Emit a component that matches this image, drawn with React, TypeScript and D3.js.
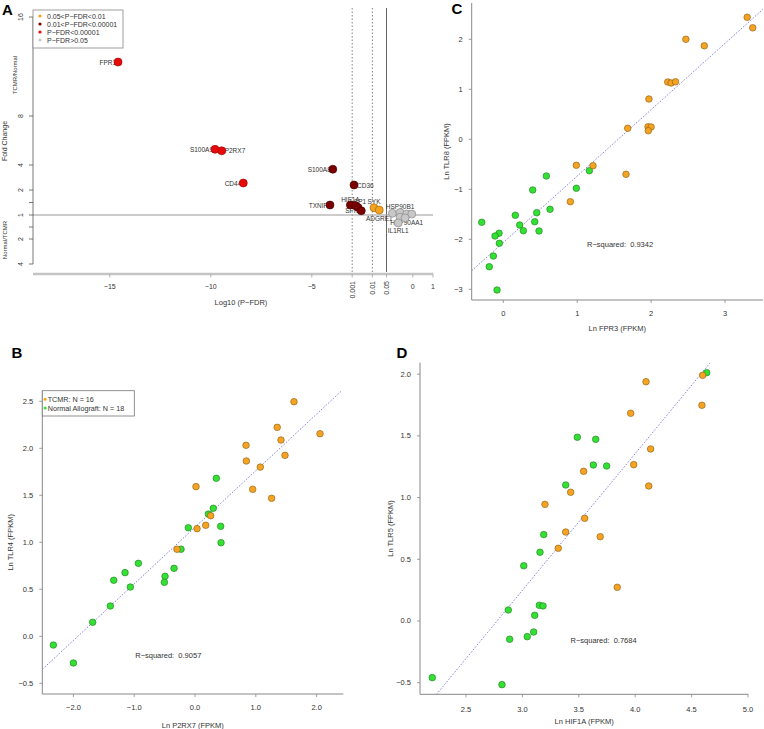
import React from 'react';
import * as d3 from 'd3';

const FONT = '"Liberation Sans", Arial, Helvetica, sans-serif';
const TXT = '#333';
const ORANGE = '#f4a322';
const GREEN = '#33e033';
const FIT = '#6868dc';
const AXIS = '#888';

// ---------------- Panel A (volcano-like) data ----------------
const aGenes = ['FPR1', 'S100A9', 'P2RX7', 'CD44', 'S100A8', 'CD36', 'TXNIP', 'HIF1A', '', 'LCP1', 'SPI1', 'SYK', 'ADGRE1', '', 'HSP90B1', '', 'HSP90AA1', '', 'IL1RL1', ''];
const aLog10P = [-14.59, -9.79, -9.46, -8.39, -3.96, -2.91, -4.10, -3.09, -2.84, -2.71, -2.55, -1.92, -1.66, -1.01, -0.63, -0.63, -0.30, -0.05, -0.72, -0.38];
const aLog2FC = [3.545, 2.32, 2.29, 1.28, 1.83, 1.20, 0.40, 0.40, 0.38, 0.30, 0.17, 0.29, 0.20, 0.07, 0.10, -0.09, 0.04, 0.04, -0.33, -0.12];
const aClass = ['red', 'red', 'red', 'red', 'darkred', 'darkred', 'darkred', 'darkred', 'darkred', 'darkred', 'darkred', 'orange', 'orange', 'gray', 'gray', 'gray', 'gray', 'gray', 'gray', 'gray'];
const aLabelPos = [2, 2, 4, 2, 2, 4, 2, 3, 3, 3, 2, 3, 1, 4, 3, 4, 1, 4, 1, 4];

const aClassFill: Record<string, string> = { orange: '#f2a31f', darkred: '#7d0000', red: '#e60a0a', gray: '#c8c8c8' };
const aClassStroke: Record<string, string> = { orange: '#a06000', darkred: '#3a0000', red: '#a00000', gray: '#808080' };
const aLegendLabels = ['0.05<P\u2212FDR<0.01', '0.01<P\u2212FDR<0.00001', 'P\u2212FDR<0.00001', 'P\u2212FDR>0.05'];
const aLegendClasses = ['orange', 'darkred', 'red', 'gray'];
const aYTicks = [-2, -1, -0.5, 0, 0.5, 1, 2, 3, 4];
const aXTicks = [-15, -10, -5, 0, 1];
const aXTicksP = [0.001, 0.01, 0.05];

// ---------------- Panel C data (FPR3 vs TLR8) ----------------
const cTcmrX = [3.30, 3.375, 2.47, 2.72, 2.225, 2.27, 2.33, 1.97, 1.683, 1.958, 2.0, 1.962, 0.988, 1.214, 1.66, 0.907];
const cTcmrY = [2.44, 2.23, 2.0, 1.87, 1.146, 1.126, 1.15, 0.806, 0.22, 0.25, 0.246, 0.172, -0.52, -0.528, -0.7, -1.248];
const cNormX = [1.164, 0.582, 0.398, 0.988, 0.632, 0.452, 0.162, -0.292, 0.222, 0.425, 0.271, 0.483, -0.058, -0.112, -0.054, -0.135, -0.19, -0.085];
const cNormY = [-0.628, -0.734, -1.014, -0.98, -1.4, -1.468, -1.52, -1.66, -1.714, -1.648, -1.828, -1.834, -1.88, -1.934, -2.08, -2.334, -2.548, -3.014];
const cFit = [-2.062, 1.327]; // intercept, slope
const cR2 = '0.9342';
const cXTicks = [0, 1, 2, 3];
const cYTicks = [-3, -2, -1, 0, 1, 2];

// ---------------- Panel B data (P2RX7 vs TLR4) ----------------
const bTcmrX = [1.628, 2.056, 1.352, 1.414, 1.48, 0.839, 0.844, 1.074, 0.949, 1.26, 0.016, 0.258, 0.176, 0.033, -0.296];
const bTcmrY = [2.496, 2.155, 2.223, 2.088, 1.925, 2.032, 1.865, 1.80, 1.564, 1.468, 1.592, 1.283, 1.181, 1.145, 0.926];
const bNormX = [0.351, 0.301, 0.219, -0.11, 0.422, 0.428, -0.23, -0.932, -1.151, -1.337, -1.064, -0.493, -0.504, -0.345, -1.393, -1.683, -2.33, -2.0];
const bNormY = [1.681, 1.362, 1.30, 1.155, 1.17, 0.996, 0.926, 0.776, 0.677, 0.596, 0.524, 0.638, 0.574, 0.723, 0.322, 0.149, -0.093, -0.284];
const bFit = [1.16, 0.602];
const bR2 = '0.9057';
const bXTicks = [-2, -1, 0, 1, 2];
const bYTicks = [-0.5, 0, 0.5, 1, 1.5, 2, 2.5];
const bLegend = ['TCMR: N = 16', 'Normal Allograft: N = 18'];

// ---------------- Panel D data (HIF1A vs TLR5) ----------------
const dTcmrX = [4.598, 4.592, 4.096, 3.96, 4.137, 3.987, 4.12, 3.543, 3.428, 3.2, 3.552, 3.384, 3.69, 3.318, 3.841];
const dTcmrY = [1.991, 1.748, 1.939, 1.683, 1.394, 1.267, 1.094, 1.213, 1.043, 0.945, 0.832, 0.721, 0.683, 0.589, 0.273];
const dNormX = [4.634, 3.487, 3.65, 3.629, 3.747, 3.384, 3.189, 3.156, 3.012, 2.875, 3.15, 3.183, 3.109, 3.1, 3.043, 2.887, 2.201, 2.819];
const dNormY = [2.012, 1.489, 1.472, 1.264, 1.256, 1.102, 0.70, 0.557, 0.448, 0.089, 0.127, 0.122, 0.046, -0.089, -0.127, -0.148, -0.459, -0.516];
const dFit = [-3.072, 1.107];
const dR2 = '0.7684';
const dXTicks = [2.5, 3, 3.5, 4, 4.5, 5];
const dYTicks = [-0.5, 0, 0.5, 1, 1.5, 2];

const minus = (s: string) => s.replace('-', '\u2212');

function PanelA() {
  const x = d3.scaleLinear().domain([-18.8, 1]).range([33, 433]);
  const y = d3.scaleLinear().domain([-2, -1, 0, 1, 2, 3, 4]).range([264, 239, 215, 190, 165, 116, 17]);
  const r = 4;
  const idx = d3.range(aGenes.length);
  const labelAttrs = (i: number) => {
    const cx = x(aLog10P[i]);
    const cy = y(aLog2FC[i]);
    const p = aLabelPos[i];
    if (p === 1) return { x: cx, y: cy + 8, anchor: 'middle' };
    if (p === 2) return { x: cx - 2, y: cy, anchor: 'end' };
    if (p === 3) return { x: cx, y: cy - 6, anchor: 'middle' };
    return { x: cx + 3, y: cy, anchor: 'start' };
  };
  return (
    <g>
      <text x={2} y={15} fontSize={15} fontWeight="bold" fill="#000">A</text>
      {/* reference lines */}
      {aXTicksP.map((p, k) => (
        <line key={'v' + k} x1={x(Math.log10(p))} x2={x(Math.log10(p))} y1={8} y2={272}
          stroke={k < 2 ? '#777' : '#555'} strokeWidth={0.9}
          strokeDasharray={k < 2 ? '1.5,2' : undefined} />
      ))}
      <line x1={33} x2={433} y1={y(0)} y2={y(0)} stroke="#999" strokeWidth={1} />
      {/* y axis */}
      <line x1={33} x2={33} y1={y(4)} y2={y(-2)} stroke="#555" strokeWidth={0.8} />
      {aYTicks.map((t) => (
        <g key={'yt' + t}>
          <line x1={29} x2={33} y1={y(t)} y2={y(t)} stroke="#555" strokeWidth={0.8} />
          {Number.isInteger(t) && (
            <text transform={`translate(20.7,${y(t)}) rotate(-90)`} textAnchor="middle" dominantBaseline="central"
              fontSize={7} fill={TXT}>{String(Math.pow(2, Math.abs(t)))}</text>
          )}
        </g>
      ))}
      <text transform="translate(15,75) rotate(-90)" textAnchor="middle" dominantBaseline="central" fontSize={6} fill={TXT}>TCMR/Normal</text>
      <text transform="translate(4.5,141) rotate(-90)" textAnchor="middle" dominantBaseline="central" fontSize={7} fill={TXT}>Fold Change</text>
      <text transform="translate(5,240) rotate(-90)" textAnchor="middle" dominantBaseline="central" fontSize={6} fill={TXT}>Normal/TCMR</text>
      {/* x axis */}
      <line x1={33} x2={433} y1={274} y2={274} stroke="#c4c4c4" strokeWidth={2.4} />
      {aXTicks.map((t) => (
        <g key={'xt' + t}>
          <line x1={x(t)} x2={x(t)} y1={274} y2={277.5} stroke="#aaa" strokeWidth={0.9} />
          <text x={x(t)} y={286} textAnchor="middle" dominantBaseline="central" fontSize={7} fill={TXT}>{minus(String(t))}</text>
        </g>
      ))}
      {aXTicksP.map((p) => (
        <g key={'xp' + p}>
          <line x1={x(Math.log10(p))} x2={x(Math.log10(p))} y1={274} y2={277.5} stroke="#aaa" strokeWidth={0.9} />
          <text transform={`translate(${x(Math.log10(p))},281) rotate(-90)`} textAnchor="end" dominantBaseline="central" fontSize={7} fill={TXT}>{String(p)}</text>
        </g>
      ))}
      <text x={241} y={302} textAnchor="middle" dominantBaseline="central" fontSize={7.5} fill={TXT}>Log10 (P{'\u2212'}FDR)</text>
      {/* labels */}
      {idx.filter((i) => aGenes[i] !== '').map((i) => {
        const a = labelAttrs(i);
        return (
          <text key={'lab' + i} x={a.x} y={a.y} textAnchor={a.anchor as any} dominantBaseline="central" fontSize={6.5} fill={TXT}>{aGenes[i]}</text>
        );
      })}
      {/* points */}
      {idx.map((i) => (
        <circle key={'pt' + i} cx={x(aLog10P[i])} cy={y(aLog2FC[i])} r={r}
          fill={aClassFill[aClass[i]]} stroke={aClassStroke[aClass[i]]} strokeWidth={0.6} />
      ))}
      {/* legend */}
      <rect x={33} y={10} width={90} height={38} fill="#fff" stroke="#888" strokeWidth={0.8} />
      {aLegendLabels.map((lab, k) => (
        <g key={'lg' + k}>
          <circle cx={40} cy={16 + k * 8} r={1.6} fill={aClassFill[aLegendClasses[k]]} />
          <text x={47} y={16 + k * 8} dominantBaseline="central" fontSize={7} fill={TXT}>{lab}</text>
        </g>
      ))}
    </g>
  );
}

type ScatterProps = {
  id: string;
  box: [number, number, number, number]; // left, top, right, bottom
  xDomain: [number, number];
  yDomain: [number, number];
  xTicks: number[];
  yTicks: number[];
  fmt: (n: number) => string;
  tcmrX: number[]; tcmrY: number[]; normX: number[]; normY: number[];
  fit: number[];
  r2: string;
  r2At: [number, number];
  xLabel: string; yLabel: string;
  letter: string; letterAt: [number, number];
  xLabelY: number; yLabelX: number; xTickY: number;
  legend?: string[];
};

function Scatter(p: ScatterProps) {
  const [L, T, R, B] = p.box;
  const x = d3.scaleLinear().domain(p.xDomain).range([L, R]);
  const y = d3.scaleLinear().domain(p.yDomain).range([B, T]);
  const rr = 3.3;
  const fitLine = d3.line<number>().x((v) => x(v)).y((v) => y(p.fit[0] + p.fit[1] * v));
  const cid = 'clip-' + p.id;
  return (
    <g>
      <defs>
        <clipPath id={cid}><rect x={L} y={T} width={R - L} height={B - T} /></clipPath>
      </defs>
      <text x={p.letterAt[0]} y={p.letterAt[1]} fontSize={15} fontWeight="bold" fill="#000">{p.letter}</text>
      <line x1={L} x2={L} y1={T} y2={B} stroke={AXIS} strokeWidth={1} />
      <line x1={L} x2={R} y1={B} y2={B} stroke={AXIS} strokeWidth={1} />
      {p.yTicks.map((t) => (
        <g key={'y' + t}>
          <line x1={L - 3} x2={L} y1={y(t)} y2={y(t)} stroke={AXIS} strokeWidth={0.8} />
          <text x={L - 9} y={y(t)} textAnchor="end" dominantBaseline="central" fontSize={7.5} fill={TXT}>{minus(p.fmt(t))}</text>
        </g>
      ))}
      {p.xTicks.map((t) => (
        <g key={'x' + t}>
          <line x1={x(t)} x2={x(t)} y1={B} y2={B + 3} stroke={AXIS} strokeWidth={0.8} />
          <text x={x(t)} y={p.xTickY} textAnchor="middle" dominantBaseline="central" fontSize={7.5} fill={TXT}>{minus(p.fmt(t))}</text>
        </g>
      ))}
      <text x={(L + R) / 2} y={p.xLabelY} textAnchor="middle" dominantBaseline="central" fontSize={7.5} fill={TXT}>{p.xLabel}</text>
      <text transform={`translate(${p.yLabelX},${(T + B) / 2}) rotate(-90)`} textAnchor="middle" dominantBaseline="central" fontSize={7.5} fill={TXT}>{p.yLabel}</text>
      <path d={fitLine(p.xDomain) || ''} clipPath={`url(#${cid})`} fill="none" stroke={FIT} strokeWidth={0.8} strokeDasharray="1.6,1.6" />
      <text x={x(p.r2At[0])} y={y(p.r2At[1])} textAnchor="middle" dominantBaseline="central" fontSize={7.5} fill={TXT} style={{ whiteSpace: 'pre' }}>{'R\u2212squared:  ' + p.r2}</text>
      {p.normX.map((v, i) => (
        <circle key={'n' + i} cx={x(v)} cy={y(p.normY[i])} r={rr} fill={GREEN} stroke="#1d7a1d" strokeWidth={0.6} />
      ))}
      {p.tcmrX.map((v, i) => (
        <circle key={'t' + i} cx={x(v)} cy={y(p.tcmrY[i])} r={rr} fill={ORANGE} stroke="#8a5a10" strokeWidth={0.6} />
      ))}
      {p.legend && (
        <g>
          <rect x={L} y={T} width={92} height={25.3} fill="#fff" stroke="#777" strokeWidth={0.8} />
          {p.legend.map((lab, k) => (
            <g key={'lg' + k}>
              <circle cx={L + 2.8} cy={T + 8.6 + k * 8.7} r={1.5} fill={k === 0 ? ORANGE : GREEN} />
              <text x={L + 5.4} y={T + 8.6 + k * 8.7} dominantBaseline="central" fontSize={7.2} fill={TXT}>{lab}</text>
            </g>
          ))}
        </g>
      )}
    </g>
  );
}

export default function App() {
  const f0 = d3.format('d');
  const f1 = d3.format('.1f');
  return (
    <svg width={764} height={729} style={{ position: 'absolute', left: 0, top: 0, background: '#fff' }} fontFamily={FONT}>
      <PanelA />
      <Scatter id="c" box={[471.7, 3, 763, 300]} xDomain={[-0.428, 3.514]} yDomain={[-3.214, 2.726]}
        xTicks={cXTicks} yTicks={cYTicks} fmt={f0}
        tcmrX={cTcmrX} tcmrY={cTcmrY} normX={cNormX} normY={cNormY}
        fit={cFit} r2={cR2} r2At={[1.58, -2.11]}
        xLabel="Ln FPR3 (FPKM)" yLabel="Ln TLR8 (FPKM)" letter="C" letterAt={[451.5, 14]}
        xLabelY={328} yLabelX={446.5} xTickY={313} />
      <Scatter id="b" box={[42.3, 390.7, 343.3, 694]} xDomain={[-2.512, 2.439]} yDomain={[-0.614, 2.613]}
        xTicks={bXTicks} yTicks={bYTicks} fmt={f1}
        tcmrX={bTcmrX} tcmrY={bTcmrY} normX={bNormX} normY={bNormY}
        fit={bFit} r2={bR2} r2At={[-0.44, -0.206]}
        xLabel="Ln P2RX7 (FPKM)" yLabel="Ln TLR4 (FPKM)" letter="B" letterAt={[11.5, 358]}
        xLabelY={725} yLabelX={10} xTickY={707.7} legend={bLegend} />
      <Scatter id="d" box={[420, 362.7, 748.3, 694.3]} xDomain={[2.092, 5.003]} yDomain={[-0.594, 2.093]}
        xTicks={dXTicks} yTicks={dYTicks} fmt={f1}
        tcmrX={dTcmrX} tcmrY={dTcmrY} normX={dNormX} normY={dNormY}
        fit={dFit} r2={dR2} r2At={[3.72, -0.16]}
        xLabel="Ln HIF1A (FPKM)" yLabel="Ln TLR5 (FPKM)" letter="D" letterAt={[396.5, 358]}
        xLabelY={721.7} yLabelX={390} xTickY={709.3} />
    </svg>
  );
}
